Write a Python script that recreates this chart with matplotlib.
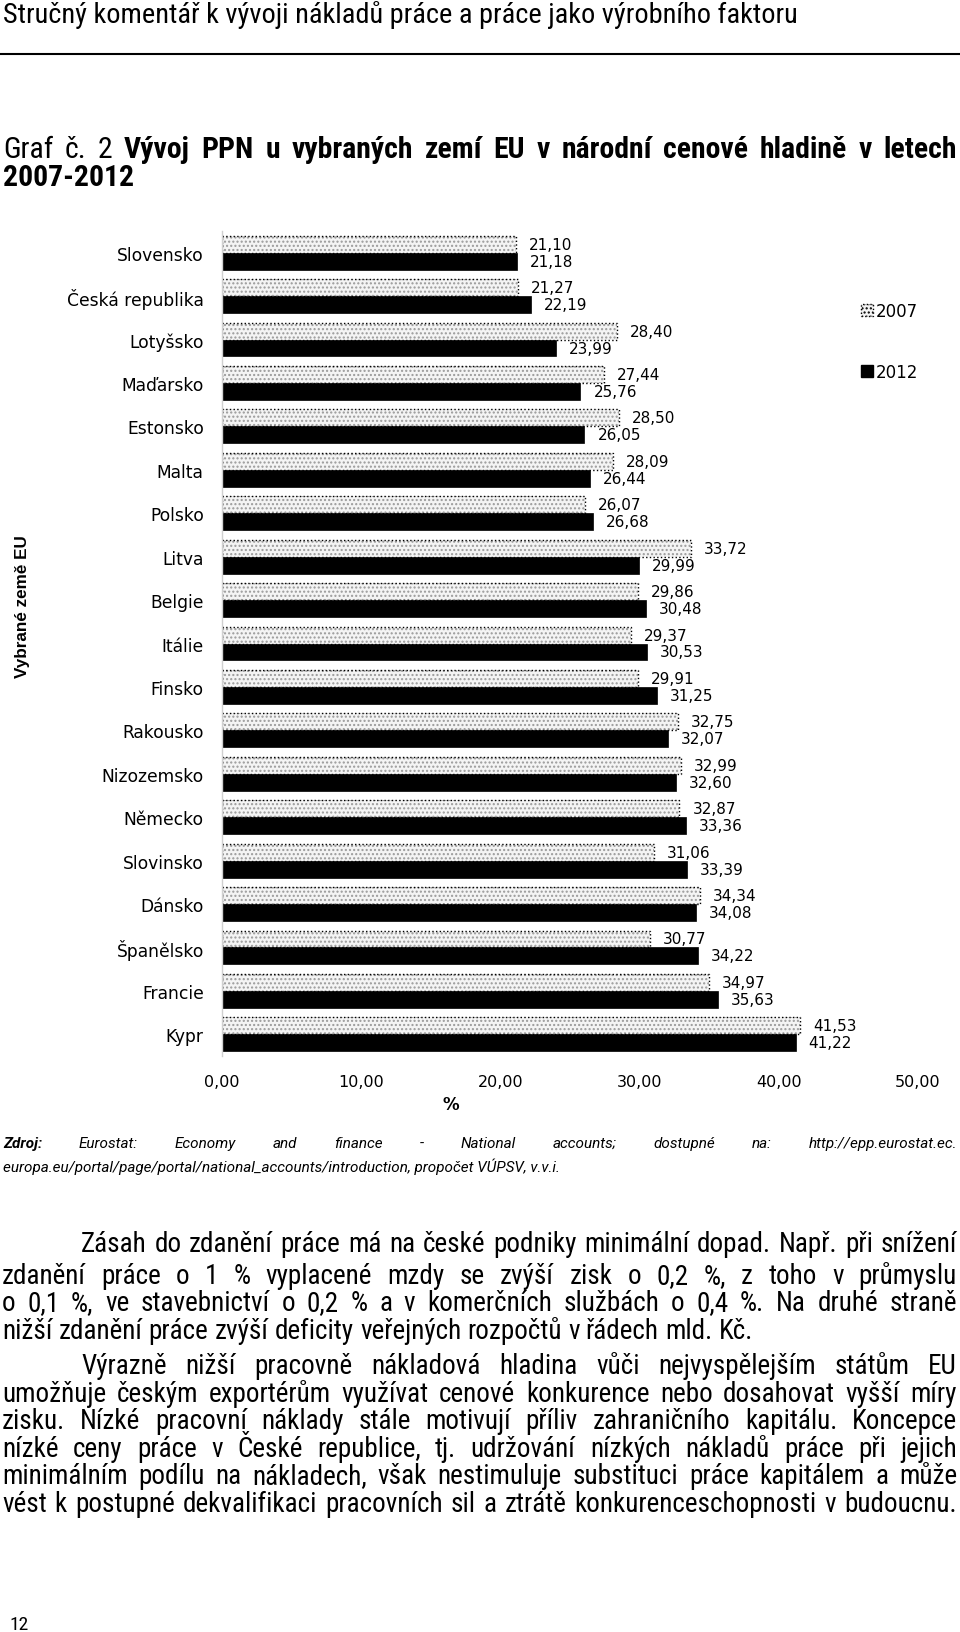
import matplotlib
matplotlib.use("Agg")
import matplotlib.pyplot as plt
from matplotlib import font_manager
from matplotlib.lines import Line2D
from matplotlib.patches import Patch
import numpy as np

W, H = 960, 1633

# ── data ─────────────────────────────────────────────────────────────
countries = [
    "Slovensko", "Česká republika", "Lotyšsko", "Maďarsko", "Estonsko",
    "Malta", "Polsko", "Litva", "Belgie", "Itálie", "Finsko", "Rakousko",
    "Nizozemsko", "Německo", "Slovinsko", "Dánsko", "Španělsko", "Francie",
    "Kypr",
]
ppn_2007 = [21.10, 21.27, 28.40, 27.44, 28.50, 28.09, 26.07, 33.72, 29.86,
            29.37, 29.91, 32.75, 32.99, 32.87, 31.06, 34.34, 30.77, 34.97,
            41.53]
ppn_2012 = [21.18, 22.19, 23.99, 25.76, 26.05, 26.44, 26.68, 29.99, 30.48,
            30.53, 31.25, 32.07, 32.60, 33.36, 33.39, 34.08, 34.22, 35.63,
            41.22]
x_ticks = [0, 10, 20, 30, 40, 50]
years = ["2007", "2012"]

# ── page text ────────────────────────────────────────────────────────
header = "Stručný komentář k vývoji nákladů práce a práce jako výrobního faktoru"
title_prefix = "Graf č. 2"
title_bold = "Vývoj PPN u vybraných zemí EU v národní cenové hladině v letech"
title_line2 = "2007-2012"
source_bold = "Zdroj:"
source_line1 = "Eurostat: Economy and finance - National accounts; dostupné na: http://epp.eurostat.ec."
source_line2 = "europa.eu/portal/page/portal/national_accounts/introduction, propočet VÚPSV, v.v.i."
paragraphs = [
    ["Zásah do zdanění práce má na české podniky minimální dopad. Např. při snížení",
     "zdanění práce o 1 % vyplacené mzdy se zvýší zisk o 0,2 %, z toho v průmyslu",
     "o 0,1 %, ve stavebnictví o 0,2 % a v komerčních službách o 0,4 %. Na druhé straně",
     "nižší zdanění práce zvýší deficity veřejných rozpočtů v řádech mld. Kč."],
    ["Výrazně nižší pracovně nákladová hladina vůči nejvyspělejším státům EU",
     "umožňuje českým exportérům využívat cenové konkurence nebo dosahovat vyšší míry",
     "zisku. Nízké pracovní náklady stále motivují příliv zahraničního kapitálu. Koncepce",
     "nízké ceny práce v České republice, tj. udržování nízkých nákladů práce při jejich",
     "minimálním podílu na nákladech, však nestimuluje substituci práce kapitálem a může",
     "vést k postupné dekvalifikaci pracovních sil a ztrátě konkurenceschopnosti v budoucnu."],
]
page_number = "12"

# ── fonts ────────────────────────────────────────────────────────────
installed = {f.name for f in font_manager.fontManager.ttflist}
NARROW = {"family": ["DejaVu Sans"]}
for cand in ["Liberation Sans Narrow", "Roboto Condensed", "Open Sans Condensed"]:
    if cand in installed:
        NARROW = {"family": [cand, "DejaVu Sans"]}
        break
else:
    if any(f.name == "DejaVu Sans" and "Condensed" in f.fname
           for f in font_manager.fontManager.ttflist):
        NARROW = {"family": ["DejaVu Sans"], "stretch": "condensed"}

plt.rcParams["font.family"] = "DejaVu Sans"
plt.rcParams["hatch.linewidth"] = 1.0


def fx(px):
    return px / W


def fy(py):
    return 1 - py / H


fig = plt.figure(figsize=(W / 100, H / 100), dpi=100)
renderer = fig.canvas.get_renderer()


def text_width(s, props):
    t = fig.text(0, 0, s, **props)
    w = t.get_window_extent(renderer=renderer).width
    t.remove()
    return w


def put_line(y, words, x0=2, x1=957, justify=True):
    """words: list of (text, props); y is baseline in page pixels."""
    widths = [text_width(w, p) for w, p in words]
    if justify and len(words) > 1:
        gap = (x1 - x0 - sum(widths)) / (len(words) - 1)
    else:
        p = words[-1][1]
        gap = text_width("a a", p) - text_width("aa", p)
    x = x0
    for (w, p), wd in zip(words, widths):
        fig.text(fx(x), fy(y), w, ha="left", va="baseline", **p)
        x += wd + gap


BODY = dict(NARROW, size=19.5)
HEAD = dict(NARROW, size=20.4)
TITLE = dict(NARROW, size=21.4)
TITLE_B = dict(NARROW, size=21.4, weight="bold")
SRC = dict(family=["Roboto", "DejaVu Sans"], size=11, style="italic")
SRC_B = dict(family=["Roboto", "DejaVu Sans"], size=11, style="italic",
             weight="bold")

# header + rule
put_line(23, [(header, HEAD)], x0=3, justify=False)
fig.add_artist(Line2D([0, 1], [fy(55), fy(55)], transform=fig.transFigure,
                      color="black", linewidth=1.5))

# chart title
words = [(w, TITLE) for w in title_prefix.split()] + \
        [(w, TITLE_B) for w in title_bold.split()]
put_line(158, words, x0=3, x1=957)
put_line(186, [(title_line2, TITLE_B)], x0=3, justify=False)

# ── chart ────────────────────────────────────────────────────────────
ax = fig.add_axes([fx(221.7), fy(1057), 696.3 / W, 825 / H])
ypos = np.arange(len(countries))
bh = 0.39
off = bh / 2

ax.barh(ypos - off, ppn_2007, height=bh, color="#f4f4f4", hatch="....",
        edgecolor="#9a9a9a", linewidth=0)
ax.barh(ypos - off, ppn_2007, height=bh, fill=False, edgecolor="black",
        linestyle=":", linewidth=1.0)
ax.barh(ypos + off, ppn_2012, height=bh, color="black", edgecolor="black",
        linewidth=0.5)

for y, v in zip(ypos, ppn_2007):
    ax.annotate(f"{v:.2f}".replace(".", ","), xy=(v, y - off), xytext=(13, 0),
                textcoords="offset pixels", va="center", ha="left", fontsize=11)
for y, v in zip(ypos, ppn_2012):
    ax.annotate(f"{v:.2f}".replace(".", ","), xy=(v, y + off), xytext=(13, 0),
                textcoords="offset pixels", va="center", ha="left", fontsize=11)

ax.set_xlim(0, 50)
ax.set_ylim(len(countries) - 0.5, -0.5)
ax.set_xticks(x_ticks)
ax.set_xticklabels([f"{t:.2f}".replace(".", ",") for t in x_ticks], fontsize=11.5)
ax.set_yticks(ypos)
ax.set_yticklabels(countries, fontsize=12.3)
ax.tick_params(axis="both", length=0)
ax.tick_params(axis="x", pad=13)
ax.tick_params(axis="y", pad=13)
for s in ["top", "right", "bottom"]:
    ax.spines[s].set_visible(False)
ax.spines["left"].set_color("#d0d0d0")
ax.spines["left"].set_linewidth(1.0)

fig.text(fx(451), fy(1105), "%", ha="center", va="center", fontsize=12,
         weight="bold")
fig.text(fx(23), fy(607), "Vybrané země EU", rotation=90, ha="center",
         va="center", fontsize=12.3, weight="bold", family="Liberation Sans")

handles = [
    Patch(facecolor="#f4f4f4", hatch="....", edgecolor="black", linestyle=":",
          linewidth=1.0),
    Patch(facecolor="black", edgecolor="black"),
]
fig.legend(handles, years, loc="upper left", bbox_to_anchor=(fx(861), fy(303)),
           frameon=False, fontsize=12, handlelength=0.7, handleheight=0.7,
           handletextpad=0.2, labelspacing=2.55, borderpad=0, borderaxespad=0)

# source
words = [(source_bold, SRC_B)] + [(w, SRC) for w in source_line1.split()]
put_line(1148, words, x0=3, x1=957)
put_line(1172, [(source_line2, SRC)], x0=3, justify=False)

# ── body text ────────────────────────────────────────────────────────
line_y = [[1252, 1284, 1311, 1339], [1374, 1402, 1429, 1457, 1484, 1512]]
for para, ys in zip(paragraphs, line_y):
    for i, (line, y) in enumerate(zip(para, ys)):
        x0 = 81 if i == 0 else 2
        last = i == len(para) - 1 and para is paragraphs[0]
        put_line(y, [(w, BODY) for w in line.split()], x0=x0, x1=957,
                 justify=not last)

fig.text(fx(9), fy(1630), page_number, ha="left", va="baseline",
         **dict(NARROW, size=14))

fig.savefig("out.png", dpi=100, facecolor="white")
